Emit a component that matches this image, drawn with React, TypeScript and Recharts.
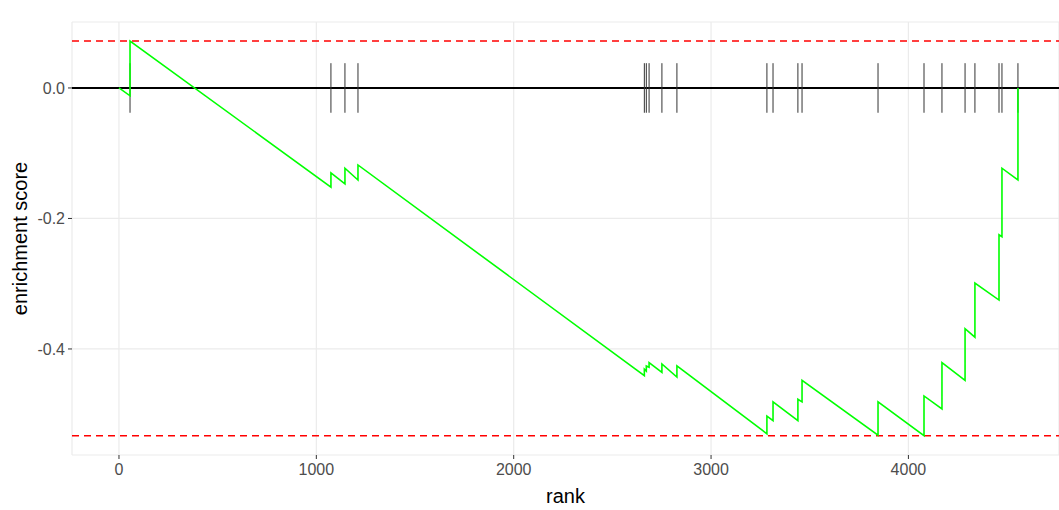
import React from 'react';
import {
  ComposedChart,
  Line,
  XAxis,
  YAxis,
  CartesianGrid,
  ReferenceLine,
} from 'recharts';

// Ranks of the gene-set hits (positions of the vertical ticks)
const hitRanks = [
  56, 1074, 1145, 1211, 2662, 2672, 2686, 2751, 2827, 3283, 3314, 3440, 3461,
  3846, 4079, 4170, 4287, 4337, 4459, 4474, 4555,
];
// Running enrichment score just before each hit
const esBefore = [
  -0.012, -0.152, -0.147, -0.141, -0.441, -0.434, -0.428, -0.436, -0.443,
  -0.53, -0.51, -0.51, -0.481, -0.532, -0.533, -0.492, -0.448, -0.382, -0.325,
  -0.228, -0.141,
];
// Running enrichment score just after each hit
const esAfter = [
  0.072, -0.13, -0.123, -0.118, -0.431, -0.426, -0.421, -0.423, -0.426,
  -0.503, -0.481, -0.477, -0.448, -0.481, -0.472, -0.421, -0.369, -0.299,
  -0.225, -0.123, 0,
];
const startRank = 0;
const startES = 0;
const maxES = 0.072;
const minES = -0.533;
const hitTickHalf = 0.038;

const xTicks = [0, 1000, 2000, 3000, 4000];
const yTicks = [-0.4, -0.2, 0];

const curve: { rank: number; es: number }[] = [{ rank: startRank, es: startES }];
hitRanks.forEach((r, i) => {
  curve.push({ rank: r, es: esBefore[i] });
  curve.push({ rank: r, es: esAfter[i] });
});

const FONT = '"Liberation Sans", Arial, Helvetica, sans-serif';

export default function App() {
  return (
    <div style={{ position: 'absolute', left: 0, top: 0, fontFamily: FONT }}>
      <ComposedChart
        width={1059}
        height={510}
        data={curve}
        margin={{ top: 22, right: 0, bottom: 0, left: 0 }}
      >
        <CartesianGrid stroke="#ebebeb" strokeWidth={1.2} />
        <XAxis
          type="number"
          dataKey="rank"
          domain={[-238, 4763]}
          ticks={xTicks}
          allowDataOverflow
          axisLine={false}
          tickLine={{ stroke: '#333333' }}
          tickSize={4}
          tickMargin={5}
          height={55}
          tick={{ fill: '#4d4d4d', fontSize: 16, fontFamily: FONT }}
          label={{
            value: 'rank',
            position: 'insideBottom',
            offset: 7,
            style: { fill: '#000', fontSize: 20, fontFamily: FONT },
          }}
        />
        <YAxis
          type="number"
          domain={[-0.5625, 0.1011]}
          ticks={yTicks}
          allowDataOverflow
          width={72}
          axisLine={false}
          tickLine={{ stroke: '#333333' }}
          tickSize={4}
          tickMargin={3}
          tickFormatter={(v: number) => v.toFixed(1)}
          tick={{ fill: '#4d4d4d', fontSize: 16, fontFamily: FONT }}
          label={{
            value: 'enrichment score',
            angle: -90,
            position: 'insideLeft',
            offset: 20,
            style: { textAnchor: 'middle', fill: '#000', fontSize: 20, fontFamily: FONT },
          }}
        />
        <ReferenceLine y={maxES} stroke="#ff0000" strokeDasharray="7 5" strokeWidth={1.6} />
        <ReferenceLine y={minES} stroke="#ff0000" strokeDasharray="7 5" strokeWidth={1.6} />
        <ReferenceLine y={0} stroke="#000000" strokeWidth={2} />
        {hitRanks.map((r, i) => (
          <ReferenceLine
            key={'h' + i}
            segment={[
              { x: r, y: -hitTickHalf },
              { x: r, y: hitTickHalf },
            ]}
            stroke="#333333"
            strokeWidth={1}
          />
        ))}
        <Line
          type="linear"
          dataKey="es"
          stroke="#00ff00"
          strokeWidth={1.6}
          dot={false}
          activeDot={false}
          isAnimationActive={false}
        />
      </ComposedChart>
    </div>
  );
}
